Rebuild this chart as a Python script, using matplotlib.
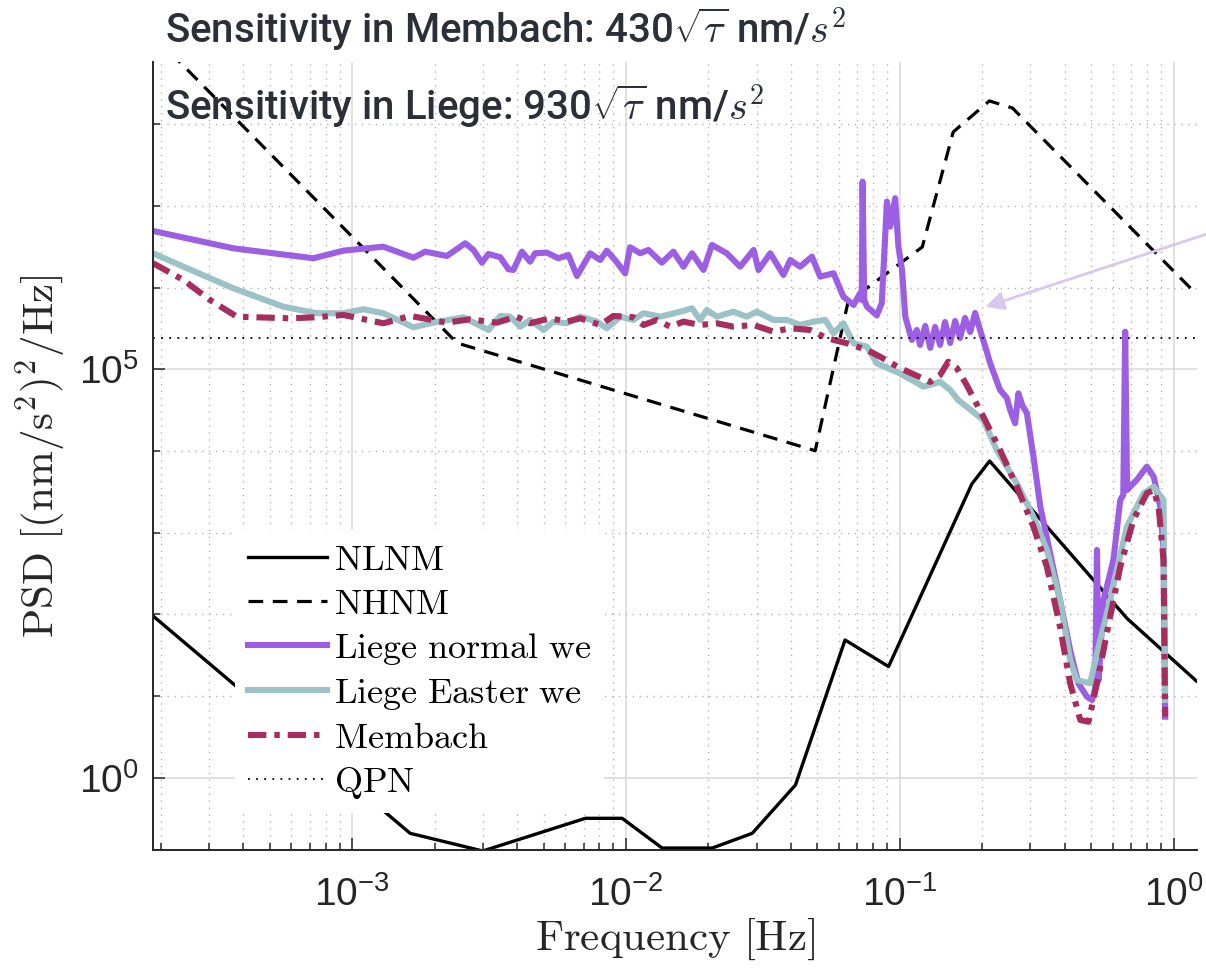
import numpy as np
import matplotlib
matplotlib.use('Agg')
import matplotlib.pyplot as plt
from matplotlib.ticker import FixedLocator, LogLocator, NullFormatter, LogFormatterSciNotation

plt.rcParams['font.family'] = ['Liberation Sans', 'DejaVu Sans']
plt.rcParams['mathtext.fontset'] = 'cm'

# Peterson noise models, log10(Hz) vs log10((nm/s^2)^2/Hz)
nlnm_logf = [-3.727, -2.788, -2.523, -2.148, -2.014, -1.868, -1.685, -1.539,
             -1.381, -1.200, -1.041, -0.737, -0.672, -0.170, 0.083]
nlnm_logpsd = [1.980, -0.681, -0.897, -0.497, -0.497, -0.861, -0.861, -0.681,
               -0.089, 1.686, 1.361, 3.596, 3.877, 1.949, 1.184]

nhnm_logf = [-3.727, -2.617, -1.309, -1.189, -0.918, -0.805, -0.673, -0.589, 0.086]
nhnm_logpsd = [9.093, 5.322, 4.003, 5.824, 6.497, 7.905, 8.285, 8.199, 5.910]

# quantum projection noise level
qpn_psd = 2.4e5

# Liege, normal weekend
liege_normal_logf = [
    -3.727, -3.434, -3.141, -3.032, -2.886, -2.776, -2.733, -2.654, -2.587, -2.557,
    -2.526, -2.502, -2.459, -2.429, -2.411, -2.380, -2.350, -2.332, -2.289, -2.247,
    -2.210, -2.179, -2.131, -2.094, -2.070, -2.040, -2.003, -1.985, -1.948, -1.918,
    -1.869, -1.827, -1.790, -1.759, -1.717, -1.686, -1.632, -1.583, -1.534, -1.516,
    -1.473, -1.425, -1.400, -1.364, -1.321, -1.291, -1.242, -1.206, -1.169, -1.145,
    -1.139, -1.136, -1.130, -1.120, -1.084, -1.066, -1.047, -1.035, -1.017, -1.005,
    -0.992, -0.980, -0.956, -0.938, -0.926, -0.907, -0.889, -0.871, -0.853, -0.835,
    -0.816, -0.798, -0.780, -0.762, -0.743, -0.725, -0.707, -0.682, -0.670, -0.634,
    -0.609, -0.597, -0.579, -0.567, -0.553, -0.536, -0.512, -0.487, -0.451, -0.415,
    -0.378, -0.348, -0.317, -0.298, -0.287, -0.280, -0.274, -0.256, -0.220, -0.195,
    -0.184, -0.177, -0.170, -0.159, -0.135, -0.098, -0.073, -0.049, -0.037, -0.031]
liege_normal_logpsd = [
    6.693, 6.481, 6.359, 6.452, 6.501, 6.366, 6.440, 6.387, 6.543, 6.461,
    6.305, 6.412, 6.371, 6.224, 6.216, 6.440, 6.317, 6.420, 6.428, 6.359,
    6.399, 6.142, 6.420, 6.338, 6.452, 6.338, 6.175, 6.494, 6.420, 6.461,
    6.305, 6.440, 6.256, 6.420, 6.216, 6.522, 6.420, 6.256, 6.461, 6.216,
    6.420, 6.155, 6.338, 6.256, 6.379, 6.134, 6.175, 5.889, 5.787, 5.930,
    5.848, 7.297, 5.848, 5.766, 5.660, 5.808, 7.052, 6.746, 7.094, 6.501,
    6.216, 5.644, 5.359, 5.481, 5.298, 5.530, 5.262, 5.518, 5.298, 5.579,
    5.322, 5.591, 5.383, 5.628, 5.457, 5.689, 5.481, 5.212, 5.073, 4.747,
    4.649, 4.502, 4.339, 4.706, 4.563, 4.461, 3.930, 3.318, 2.747, 2.175,
    1.563, 1.156, 0.992, 0.951, 1.074, 2.788, 1.196, 2.175, 2.665, 3.400,
    3.461, 5.460, 3.522, 3.563, 3.645, 3.808, 3.685, 3.318, 2.788, 0.747]

# Liege, Easter weekend
liege_easter_logf = [
    -3.727, -3.616, -3.434, -3.251, -3.129, -3.032, -2.959, -2.886, -2.776, -2.703,
    -2.594, -2.502, -2.459, -2.423, -2.386, -2.350, -2.301, -2.265, -2.216, -2.167,
    -2.106, -2.070, -2.021, -1.973, -1.936, -1.875, -1.802, -1.759, -1.729, -1.705,
    -1.668, -1.608, -1.559, -1.522, -1.461, -1.412, -1.364, -1.315, -1.272, -1.242,
    -1.206, -1.169, -1.120, -1.084, -1.000, -0.914, -0.853, -0.816, -0.787, -0.756,
    -0.695, -0.646, -0.573, -0.512, -0.463, -0.415, -0.378, -0.354, -0.305, -0.280,
    -0.232, -0.171, -0.110, -0.073, -0.037, -0.031]
liege_easter_logpsd = [
    6.420, 6.256, 5.992, 5.766, 5.686, 5.686, 5.735, 5.686, 5.514, 5.571,
    5.637, 5.481, 5.653, 5.644, 5.522, 5.604, 5.481, 5.583, 5.563, 5.644,
    5.583, 5.502, 5.644, 5.604, 5.686, 5.644, 5.705, 5.747, 5.604, 5.726,
    5.644, 5.705, 5.644, 5.705, 5.604, 5.604, 5.542, 5.583, 5.604, 5.441,
    5.563, 5.318, 5.277, 5.073, 4.951, 4.787, 4.845, 4.747, 4.624, 4.542,
    4.379, 4.012, 3.604, 3.195, 2.788, 2.175, 1.441, 1.196, 1.156, 1.523,
    2.175, 3.073, 3.482, 3.563, 3.400, 0.951]

# Membach
membach_logf = [
    -3.727, -3.616, -3.519, -3.421, -3.226, -3.129, -3.032, -2.886, -2.788, -2.654,
    -2.569, -2.472, -2.399, -2.350, -2.277, -2.216, -2.167, -2.094, -2.046, -1.973,
    -1.936, -1.887, -1.839, -1.790, -1.729, -1.668, -1.608, -1.534, -1.461, -1.400,
    -1.327, -1.266, -1.193, -1.120, -1.072, -1.000, -0.889, -0.853, -0.823, -0.792,
    -0.756, -0.695, -0.634, -0.573, -0.512, -0.463, -0.415, -0.378, -0.341, -0.311,
    -0.280, -0.244, -0.195, -0.147, -0.098, -0.073, -0.055, -0.037, -0.031]
membach_logpsd = [
    6.298, 6.093, 5.848, 5.644, 5.624, 5.637, 5.665, 5.563, 5.653, 5.571,
    5.612, 5.571, 5.644, 5.563, 5.624, 5.583, 5.624, 5.542, 5.653, 5.637,
    5.542, 5.604, 5.522, 5.583, 5.542, 5.563, 5.522, 5.542, 5.460, 5.502,
    5.481, 5.380, 5.318, 5.236, 5.154, 5.016, 4.845, 4.930, 5.093, 5.016,
    4.808, 4.420, 4.012, 3.563, 3.073, 2.583, 1.849, 1.156, 0.706, 0.685,
    1.156, 1.768, 2.583, 3.155, 3.482, 3.522, 3.318, 2.665, 0.747]

# point of interest on the Liege curve
arrow_f = 10 ** -0.688
arrow_psd = 10 ** 5.763

fig = plt.figure(figsize=(12.06, 9.76), dpi=100)
ax = fig.add_axes([0.1269, 0.1291, 0.8657, 0.8074])
ax.set_xscale('log')
ax.set_yscale('log')
ax.set_axisbelow(True)

ax.plot(10 ** np.array(nlnm_logf), 10 ** np.array(nlnm_logpsd), color='k', lw=2.4,
        label=r'$\mathrm{NLNM}$')
ax.plot(10 ** np.array(nhnm_logf), 10 ** np.array(nhnm_logpsd), color='k', lw=2.3,
        dashes=(4.6, 3.0), label=r'$\mathrm{NHNM}$')
ax.plot(10 ** np.array(liege_normal_logf), 10 ** np.array(liege_normal_logpsd),
        color='#9c5fe3', lw=4.4, solid_joinstyle='round', label=r'$\mathrm{Liege\ normal\ we}$')
ax.plot(10 ** np.array(liege_easter_logf), 10 ** np.array(liege_easter_logpsd),
        color='#9bc2c7', lw=4.4, solid_joinstyle='round', label=r'$\mathrm{Liege\ Easter\ we}$')
ax.plot(10 ** np.array(membach_logf), 10 ** np.array(membach_logpsd),
        color='#a82d5f', lw=4.4, dashes=(3.0, 1.3, 0.9, 1.3), label=r'$\mathrm{Membach}$')
ax.axhline(qpn_psd, color='k', lw=1.3, ls=(0, (1, 3.5)), label=r'$\mathrm{QPN}$')

ax.annotate('', xy=(arrow_f, arrow_psd), xycoords='data',
            xytext=(1.0, 0.760), textcoords='figure fraction', annotation_clip=False,
            arrowprops=dict(arrowstyle='-|>', color='#d6c8ee', lw=2, mutation_scale=28,
                            shrinkA=0, shrinkB=0))

ax.set_xlim(10 ** -3.727, 10 ** 0.0855)
ax.set_ylim(10 ** -0.885, 10 ** 8.762)

ax.xaxis.set_major_locator(LogLocator(base=10))
ax.xaxis.set_minor_locator(LogLocator(base=10, subs=np.arange(2, 10)))
ax.xaxis.set_minor_formatter(NullFormatter())
ax.yaxis.set_major_locator(FixedLocator([1e0, 1e5]))
ax.yaxis.set_major_formatter(LogFormatterSciNotation())
ax.yaxis.set_minor_locator(FixedLocator([10.0 ** k for k in range(-1, 10)]))
ax.yaxis.set_minor_formatter(NullFormatter())

ax.grid(which='major', color='#d9d9d9', lw=1.1, ls='-')
ax.grid(which='minor', color='#b3b3b3', lw=1.0, ls=(0, (1, 4)))

for side in ['top', 'right']:
    ax.spines[side].set_visible(False)
for side in ['left', 'bottom']:
    ax.spines[side].set_color('#262626')
    ax.spines[side].set_linewidth(1.4)

ax.tick_params(which='both', direction='in', top=False, right=False,
               color='#262626', width=1.1, labelcolor='#262626', labelsize=28)
ax.tick_params(which='major', length=8.6)
ax.tick_params(which='minor', length=5)
ax.tick_params(axis='x', pad=19)
ax.tick_params(axis='y', pad=10)

ax.set_xlabel(r'$\mathrm{Frequency\ [Hz]}$', fontsize=31, color='#262626', labelpad=2)
ax.set_ylabel(r'$\mathrm{PSD}\ [(\mathrm{nm/s}^2)^2/\mathrm{Hz}]$', fontsize=31,
              color='#262626', labelpad=8)

leg = ax.legend(loc='upper left', bbox_to_anchor=(0.0785, 0.4060), fontsize=26,
                frameon=True, facecolor='white', edgecolor='none', framealpha=1,
                fancybox=False, handlelength=2.2, handletextpad=0.2,
                labelspacing=0.25, borderpad=0.35, borderaxespad=0)

fig.text(0.1368, 0.9556, r'Sensitivity in Membach: 430$\sqrt{\tau}$ nm/$s^2$',
         fontsize=29, family='Roboto', weight='medium', color='#2b2f38', va='baseline')
fig.text(0.1368, 0.877, r'Sensitivity in Liege: 930$\sqrt{\tau}$ nm/$s^2$',
         fontsize=29, family='Roboto', weight='medium', color='#2b2f38', va='baseline',
         zorder=10)

fig.savefig('out.png', dpi=100)
